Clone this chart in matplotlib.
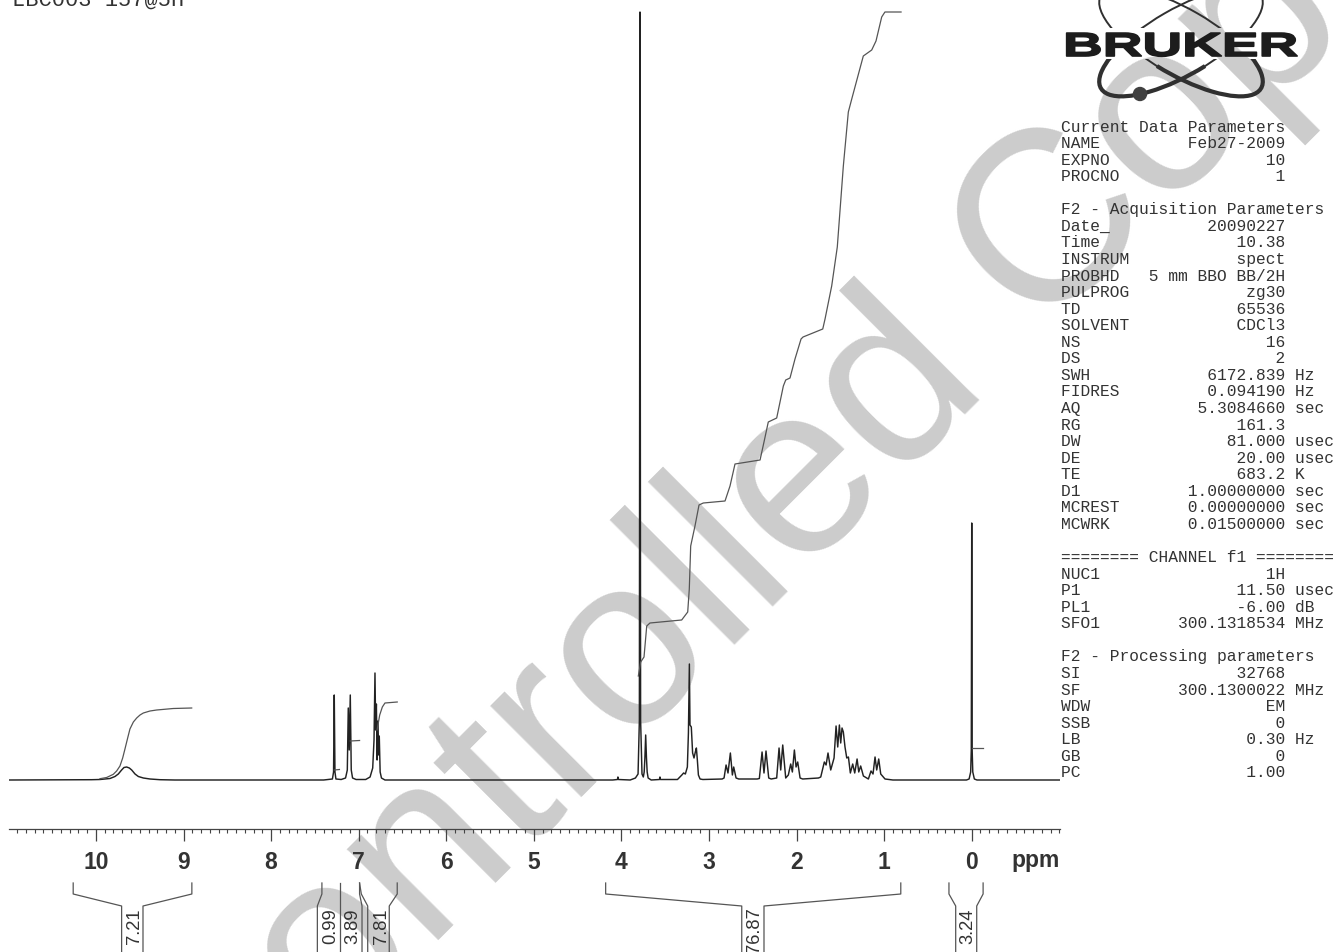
import matplotlib
matplotlib.use('Agg')
import matplotlib.pyplot as plt
from matplotlib.patches import Ellipse, Arc, Rectangle, Circle
from matplotlib.patheffects import AbstractPathEffect
from matplotlib.ticker import MultipleLocator
from matplotlib.transforms import Affine2D

# spectrum outline, ppm from high to low field, height above baseline
spec_ppm = [10.99, 10.05, 9.954, 9.840, 9.783, 9.745, 9.707, 9.680, 9.650, 9.619, 9.592, 9.554, 9.516, 9.459, 9.383, 9.269, 9.10,
            7.40, 7.30, 7.287, 7.279, 7.271, 7.26, 7.20, 7.15, 7.13, 7.119, 7.108, 7.096, 7.085, 7.07, 7.03,
            6.92, 6.87, 6.84, 6.825, 6.814, 6.806, 6.798, 6.79, 6.78, 6.772, 6.765, 6.755, 6.74, 6.70,
            4.10, 4.045, 4.04, 4.035, 3.90, 3.84, 3.81, 3.795, 3.788, 3.781, 3.765, 3.75, 3.74, 3.732, 3.723, 3.714, 3.706, 3.695, 3.66,
            3.565, 3.56, 3.555, 3.36, 3.31, 3.29, 3.27, 3.247, 3.235, 3.224, 3.217, 3.202, 3.187, 3.171, 3.156, 3.144, 3.133, 3.121, 3.102, 3.07,
            2.85, 2.828, 2.805, 2.783, 2.756, 2.733, 2.718, 2.691, 2.66,
            2.45, 2.425, 2.394, 2.372, 2.349, 2.318, 2.29,
            2.227, 2.200, 2.181, 2.158, 2.124, 2.094, 2.067, 2.048, 2.025, 2.006, 1.987, 1.960, 1.93,
            1.75, 1.724, 1.683, 1.663, 1.641, 1.610, 1.572, 1.549, 1.530, 1.511, 1.496, 1.481, 1.466, 1.447, 1.427,
            1.408, 1.386, 1.359, 1.336, 1.309, 1.290, 1.268, 1.237, 1.180, 1.150, 1.127, 1.104, 1.085, 1.062, 1.039, 0.990, 0.90,
            0.06, 0.03, 0.012, 0.005, 0.0, -0.005, -0.012, -0.03, -0.06, -1.0]
spec_val = [0, 0.3, 0.5, 1.5, 3.5, 6, 10, 12.5, 13, 12, 10, 6, 3.5, 2, 1, 0.3, 0,
            0, 1, 8, 85, 8, 1, 0.5, 2, 10, 72, 30, 85, 10, 2, 0.5,
            0.5, 3, 12, 40, 107, 50, 76, 20, 59, 25, 44, 8, 2, 0,
            0, 0.5, 3, 0.5, 0, 2, 6, 60, 768, 60, 6, 3, 8, 22, 45, 22, 8, 2, 0,
            0.5, 3, 0.5, 0.5, 5, 7, 6, 13, 47, 116, 55, 53, 27, 22, 28, 32, 20, 5, 1, 0.5,
            1, 2, 15, 7, 27, 5, 13, 2, 1,
            1, 1.5, 28, 7, 29, 2, 1,
            2, 32, 10, 35, 2, 5, 16, 8, 30, 13, 18, 2, 1,
            2, 3, 18, 15, 27, 10, 22, 54, 33, 55, 37, 52, 48, 33, 22,
            23, 7, 16, 7, 21, 8, 14, 4, 1, 9, 6, 23, 10, 21, 6, 1, 0,
            0, 1, 8, 30, 257, 30, 8, 1, 0, 0]

# integral curves
int1_ppm = [9.954, 9.878, 9.802, 9.764, 9.726, 9.695, 9.669, 9.638, 9.612, 9.573, 9.535, 9.497, 9.459, 9.383, 9.307, 9.117, 8.907]
int1_val = [1.3, 2.5, 5.7, 9, 14, 22, 31, 42, 51, 58, 62, 65, 67, 69, 70, 71.5, 72]
int2_ppm = [7.279, 7.22]
int2_val = [10, 10.5]
int3_ppm = [7.096, 6.99]
int3_val = [39, 39.5]
int4_ppm = [6.79, 6.76, 6.73, 6.70, 6.56]
int4_val = [50, 65, 73, 77, 78]
int5_ppm = [3.807, 3.780, 3.742, 3.711, 3.674, 3.312, 3.243, 3.225, 3.209, 3.160, 3.114, 3.065, 2.817,
            2.760, 2.703, 2.417, 2.372, 2.323, 2.227, 2.151, 2.124, 2.075, 2.018, 1.949, 1.926, 1.701,
            1.675, 1.599, 1.535, 1.466, 1.409, 1.370, 1.238, 1.142, 1.093, 1.028, 0.991, 0.807]
int5_val = [104, 118, 123, 154, 157, 160, 168, 191, 234, 254, 275, 277, 279,
            294, 316, 320, 338, 358, 362, 394, 400, 402, 421, 441, 443, 451,
            461, 494, 533, 614, 668, 681, 724, 730, 739, 763, 768, 768]
int6_ppm = [0.0, -0.125]
int6_val = [32, 32]

major_ticks = [10, 9, 8, 7, 6, 5, 4, 3, 2, 1, 0]
integral_labels = ['7.21', '0.99', '3.89', '7.81', '76.87', '3.24']
integral_label_ppm = [9.56, 7.32, 7.07, 6.74, 2.48, 0.045]
integral_label_pos = [-145, -145, -145, -145, -149, -145]

# parameter block as printed by the spectrometer: name, value, unit (None = heading)
param_rows = [
    ('Current Data Parameters', None, ''), ('NAME', 'Feb27-2009', ''), ('EXPNO', '10', ''), ('PROCNO', '1', ''),
    ('', '', ''),
    ('F2 - Acquisition Parameters', None, ''), ('Date_', '20090227', ''), ('Time', '10.38', ''),
    ('INSTRUM', 'spect', ''), ('PROBHD', '5 mm BBO BB/2H', ''), ('PULPROG', 'zg30', ''), ('TD', '65536', ''),
    ('SOLVENT', 'CDCl3', ''), ('NS', '16', ''), ('DS', '2', ''), ('SWH', '6172.839', 'Hz'),
    ('FIDRES', '0.094190', 'Hz'), ('AQ', '5.3084660', 'sec'), ('RG', '161.3', ''), ('DW', '81.000', 'usec'),
    ('DE', '20.00', 'usec'), ('TE', '683.2', 'K'), ('D1', '1.00000000', 'sec'), ('MCREST', '0.00000000', 'sec'),
    ('MCWRK', '0.01500000', 'sec'),
    ('', '', ''),
    ('======== CHANNEL f1 ========', None, ''), ('NUC1', '1H', ''), ('P1', '11.50', 'usec'), ('PL1', '-6.00', 'dB'),
    ('SFO1', '300.1318534', 'MHz'),
    ('', '', ''),
    ('F2 - Processing parameters', None, ''), ('SI', '32768', ''), ('SF', '300.1300022', 'MHz'), ('WDW', 'EM', ''),
    ('SSB', '0', ''), ('LB', '0.30', 'Hz'), ('GB', '0', ''), ('PC', '1.00', ''),
]


class Stretch(AbstractPathEffect):
    # widen a text horizontally about a pixel position, thickening it a bit
    def __init__(self, x0, sx, lw):
        super().__init__()
        self.x0, self.sx, self.lw = x0, sx, lw

    def draw_path(self, renderer, gc, tpath, affine, rgbFace=None):
        gc0 = renderer.new_gc()
        gc0.copy_properties(gc)
        gc0.set_linewidth(self.lw)
        gc0.set_foreground(rgbFace)
        stretched = affine + Affine2D().translate(-self.x0, 0).scale(self.sx, 1).translate(self.x0, 0)
        renderer.draw_path(gc0, tpath, stretched, rgbFace)
        gc0.restore()


plt.rcParams['font.family'] = ['Liberation Sans', 'DejaVu Sans']

fig = plt.figure(figsize=(13.36, 9.53), dpi=100)

# pixel overlay for watermark, logo and parameter block
over = fig.add_axes([0, 0, 1, 1], zorder=0)
over.set_xlim(0, 1336)
over.set_ylim(953, 0)
over.axis('off')

over.text(26, 1353, 'Uncontrolled Copy', fontsize=175, color='#cccccc', rotation=45,
          rotation_mode='anchor', ha='left', va='baseline', zorder=0)

for i, (name, value, unit) in enumerate(param_rows):
    line = name if value is None else f'{name:<8}{value:>15} {unit}'.rstrip()
    if line:
        over.text(1061, 127 + i * 16.56, line, family='Liberation Mono', fontsize=11.7, color='#333333',
                  ha='left', va='center', zorder=3)
over.text(12, 6, 'LBC003 157@5H', family='Liberation Mono', fontsize=15.8, color='#333333',
          ha='left', va='baseline', zorder=3)

# logo
logo_color = '#303030'
for angle, th1, th2 in [(30, -35, 105), (-30, 75, 215)]:
    for top, h in [(0, 29), (60, 50)]:
        ell = Ellipse((1181, 43), 185, 66, angle=angle, fill=False, ec=logo_color, lw=1.4, zorder=2)
        over.add_patch(ell)
        ell.set_clip_path(Rectangle((1060, top), 240, h, transform=over.transData))
    arc = Arc((1181, 43), 185, 66, angle=angle, theta1=th1, theta2=th2, ec=logo_color, lw=3, zorder=2)
    over.add_patch(arc)
    arc.set_clip_path(Rectangle((1060, 60), 240, 50, transform=over.transData))
over.add_patch(Circle((1140, 95), 6.5, color='#404040', zorder=2))
over.text(1063, 57, 'BRUKER', fontsize=24, fontweight='bold', color='#1c1c1c', ha='left', va='baseline',
          zorder=4, path_effects=[Stretch(1063, 1.65, 1.2)])

# spectrum axes, bottom spine is the ppm scale
ax = fig.add_axes([9 / 1336, (953 - 830) / 953, (1060 - 9) / 1336, 830 / 953], zorder=1)
ax.patch.set_alpha(0)
ax.set_xlim(10.993, -1.008)
ax.set_ylim(-49, 781)
for side in ['top', 'left', 'right']:
    ax.spines[side].set_visible(False)
ax.spines['bottom'].set_linewidth(0.9)
ax.spines['bottom'].set_color('#444444')
ax.yaxis.set_visible(False)

ax.plot(spec_ppm, spec_val, color='#222222', lw=1.05, solid_joinstyle='round')
for xs, ys in [(int1_ppm, int1_val), (int2_ppm, int2_val), (int3_ppm, int3_val),
               (int4_ppm, int4_val), (int5_ppm, int5_val), (int6_ppm, int6_val)]:
    ax.plot(xs, ys, color='#555555', lw=0.9)

ax.set_xticks(major_ticks)
ax.set_xticklabels([str(t) for t in major_ticks], fontsize=16.5, fontweight='bold', color='#333333')
ax.xaxis.set_minor_locator(MultipleLocator(0.1))
ax.tick_params(axis='x', which='major', length=8.6, width=0.9, color='#444444', pad=6.5)
ax.tick_params(axis='x', which='minor', length=2.6, width=0.8, color='#444444')
ax.text(-1.0, -80, 'ppm', fontsize=16.5, fontweight='bold', color='#333333', ha='right', va='center', clip_on=False)

# integral brackets, y in the same units as the spectrum (below the scale)
top_y, knee_y, neck_y, low_y = -103, -114, -126, -172
bracket_style = dict(color='#555555', lw=0.9, clip_on=False)


def bracket(x_outer, x_inner):
    ax.plot([x_outer, x_outer, x_inner, x_inner], [top_y, knee_y, neck_y, low_y], **bracket_style)


bracket(10.26, 9.707)
bracket(8.905, 9.463)
bracket(7.42, 7.472)
ax.plot([7.215, 7.215], [top_y, low_y], **bracket_style)
bracket(6.99, 6.962)
ax.plot([6.99, 6.97, 6.897, 6.897], [top_y, knee_y, neck_y, low_y], **bracket_style)
bracket(6.56, 6.651)
bracket(4.18, 2.626)
bracket(0.81, 2.372)
bracket(0.26, 0.183)
bracket(-0.13, -0.057)

for xp, yp, label in zip(integral_label_ppm, integral_label_pos, integral_labels):
    ax.text(xp, yp, label, rotation=90, fontsize=13.2, color='#333333', ha='center', va='center', clip_on=False)

fig.savefig('out.png', dpi=100)
